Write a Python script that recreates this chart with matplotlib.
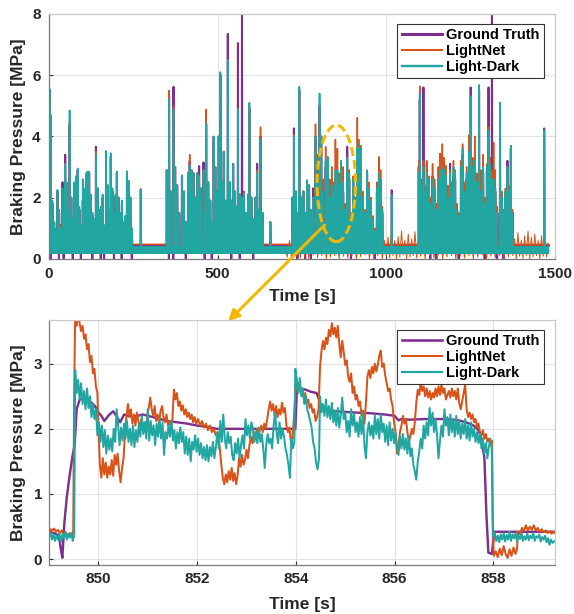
import numpy as np
import matplotlib
matplotlib.use("Agg")
import matplotlib.pyplot as plt
from matplotlib.patches import Ellipse, ConnectionPatch

plt.rcParams['font.family'] = ['Liberation Sans', 'DejaVu Sans']
plt.rcParams['font.weight'] = 'bold'

# ---------------- data: top panel (braking events, peaks in MPa) ----------------
evt_t = [2, 5, 10, 16, 21, 25, 30, 35, 40, 44, 48, 53, 57, 61, 66, 71, 75, 80, 85, 90,
         95, 100, 105, 110, 114, 119, 124, 129, 134, 139, 144, 149, 154, 159, 164, 169, 174, 179, 183, 188,
         193, 197, 201, 206, 211, 216, 221, 226, 231, 236, 241, 246, 272,
         349, 356, 361, 369, 374, 380, 386, 394, 400, 406, 412, 417, 422, 428, 434, 440, 445, 451, 458, 462,
         466, 472, 478, 483, 488, 493, 498, 503, 508, 513, 518, 524, 530, 536, 541, 546, 551, 556, 560, 566,
         572, 578, 585, 590, 594, 600, 606, 612, 617, 622, 627, 633, 656,
         722, 726, 732, 737, 742, 748, 754, 760, 765, 771, 777, 783, 790, 796, 802, 807, 813, 820, 826, 832,
         838, 844, 849, 855, 860, 866, 872, 878, 884, 890, 896, 902, 908, 914, 918, 924, 930, 937, 943, 948,
         954, 960, 966, 972, 978, 983, 988, 1016,
         1096, 1099, 1104, 1110, 1115, 1120, 1126, 1131, 1137, 1143, 1149, 1154, 1159, 1163, 1166, 1171, 1176, 1182, 1189, 1194,
         1199, 1204, 1210, 1215, 1221, 1226, 1232, 1238, 1245, 1250, 1256, 1262, 1268, 1275, 1281, 1287, 1292, 1298, 1303, 1308,
         1313, 1318, 1323, 1329, 1337, 1342, 1348, 1353, 1359, 1364, 1369, 1374, 1468]

gt_pk = [5.5, 4.3, 1.8, 1.0, 0.8, 2.2, 1.5, 1.1, 2.5, 1.4, 3.4, 2.4, 1.5, 4.4, 2.0, 1.2, 2.4, 2.6, 2.9, 1.6,
         1.0, 1.9, 2.2, 2.6, 2.8, 2.8, 2.0, 1.4, 1.2, 3.66, 2.3, 1.5, 1.6, 2.0, 1.0, 3.5, 2.4, 1.5, 3.33, 2.2,
         1.4, 2.0, 2.8, 2.0, 1.4, 1.8, 1.1, 1.3, 2.85, 2.5, 2.0, 0.9, 2.27,
         2.9, 5.3, 2.2, 5.62, 3.0, 2.4, 1.5, 2.7, 2.2, 1.2, 2.8, 3.2, 2.9, 2.8, 2.0, 2.8, 3.03, 2.3, 3.15, 1.5,
         4.4, 2.5, 1.9, 1.2, 3.99, 3.0, 2.2, 4.0, 6.0, 2.5, 3.5, 1.9, 7.35, 2.5, 1.9, 3.1, 2.2, 1.7, 7.05, 2.1,
         8.5, 2.1, 1.5, 2.1, 4.9, 2.0, 1.3, 2.0, 3.1, 1.6, 4.0, 1.5, 1.2,
         2.0, 4.26, 2.2, 1.5, 5.5, 2.0, 2.2, 1.5, 2.5, 2.4, 1.6, 2.3, 4.0, 2.4, 5.0, 4.0, 2.2, 3.0, 3.2, 2.0,
         2.5, 2.0, 2.45, 2.6, 2.2, 2.6, 2.2, 1.5, 3.66, 2.6, 1.2, 2.5, 1.8, 3.4, 3.6, 3.2, 2.0, 1.4, 2.8, 2.3,
         1.8, 1.2, 0.9, 2.2, 2.8, 2.6, 1.5, 2.24,
         3.0, 5.2, 2.5, 5.6, 2.2, 3.12, 2.5, 1.8, 2.7, 2.2, 1.6, 2.5, 2.9, 2.8, 3.0, 2.9, 2.6, 2.0, 3.1, 2.2,
         2.7, 2.6, 1.6, 1.3, 3.0, 3.4, 2.2, 2.6, 3.4, 5.6, 3.0, 3.0, 2.5, 5.5, 2.2, 2.8, 1.8, 2.9, 5.6, 3.1,
         8.5, 2.6, 2.2, 1.5, 5.0, 2.0, 1.4, 2.1, 3.2, 2.2, 3.6, 1.5, 4.26]

ln_pk = [5.3, 4.0, 1.8, 1.0, 0.8, 2.1, 1.4, 1.1, 2.3, 1.4, 3.1, 2.4, 1.5, 4.5, 1.9, 1.2, 2.3, 2.6, 2.9, 1.6,
         1.0, 1.5, 2.2, 2.6, 2.8, 2.7, 2.0, 1.4, 1.2, 3.5, 2.2, 1.5, 1.6, 2.0, 1.0, 3.4, 2.3, 1.5, 3.2, 2.2,
         1.4, 2.0, 2.8, 2.0, 1.4, 1.8, 1.1, 1.3, 2.8, 2.5, 2.0, 0.9, 2.2,
         2.8, 5.5, 2.0, 5.0, 2.9, 2.4, 1.5, 2.7, 2.2, 1.2, 2.8, 3.4, 2.9, 2.7, 2.0, 2.8, 2.7, 2.3, 2.9, 1.5,
         4.88, 2.5, 1.9, 1.2, 3.9, 3.0, 2.2, 4.0, 6.0, 2.5, 3.5, 1.9, 6.5, 2.5, 1.9, 3.0, 2.2, 1.7, 4.9, 2.1,
         2.0, 2.2, 1.5, 2.1, 5.0, 2.0, 1.3, 2.0, 2.9, 1.6, 4.3, 1.5, 1.1,
         2.0, 4.05, 2.2, 1.5, 5.6, 2.0, 2.2, 1.5, 2.4, 2.4, 1.6, 2.0, 4.4, 3.4, 5.0, 3.8, 2.6, 3.66, 3.0, 2.6,
         3.0, 2.5, 3.9, 3.6, 2.8, 3.2, 3.0, 1.8, 3.3, 2.9, 1.5, 2.7, 2.0, 4.61, 3.9, 3.7, 2.2, 1.6, 2.9, 2.5,
         2.0, 1.4, 1.0, 2.5, 3.33, 2.9, 1.7, 2.0,
         3.2, 5.64, 2.6, 3.2, 2.4, 3.2, 2.7, 2.0, 3.1, 2.6, 1.8, 3.0, 3.44, 3.4, 3.75, 3.3, 3.05, 2.4, 2.9, 2.5,
         3.2, 2.9, 1.8, 1.5, 3.2, 3.75, 2.5, 3.0, 4.04, 5.3, 3.3, 4.0, 2.8, 5.6, 2.9, 3.4, 2.0, 3.1, 4.3, 3.3,
         2.9, 3.8, 2.9, 1.7, 5.1, 2.2, 1.6, 2.3, 3.0, 2.4, 3.7, 1.6, 4.2]

ld_pk = [5.55, 4.7, 1.9, 1.2, 0.9, 2.25, 1.6, 1.0, 2.3, 1.5, 3.1, 2.5, 1.6, 4.85, 2.0, 1.3, 2.5, 2.7, 2.95, 1.7,
         1.1, 2.6, 2.3, 2.8, 2.85, 2.85, 2.1, 1.5, 1.3, 3.4, 2.3, 1.6, 1.7, 2.1, 1.1, 3.52, 2.4, 1.6, 3.45, 2.3,
         1.5, 2.1, 2.85, 2.0, 1.5, 1.9, 1.2, 1.4, 2.85, 2.55, 2.0, 1.0, 2.25,
         2.9, 5.2, 2.2, 4.9, 3.0, 2.4, 1.5, 2.73, 2.2, 1.2, 2.8, 3.05, 2.9, 2.8, 2.0, 2.8, 2.7, 2.3, 2.9, 1.5,
         4.4, 2.5, 1.9, 1.2, 3.99, 3.0, 2.2, 4.0, 6.1, 2.5, 3.5, 1.9, 6.49, 2.5, 1.9, 3.1, 2.2, 1.7, 4.9, 2.1,
         2.0, 2.1, 1.5, 2.1, 5.1, 2.0, 1.3, 2.0, 2.8, 1.6, 3.9, 1.5, 1.2,
         2.0, 4.0, 2.2, 1.5, 5.62, 2.0, 2.2, 1.5, 2.57, 2.4, 1.6, 2.0, 4.0, 2.5, 5.4, 4.0, 2.2, 3.2, 3.33, 2.0,
         2.4, 2.2, 2.9, 2.9, 2.4, 3.2, 2.5, 1.6, 3.3, 2.8, 1.3, 2.6, 1.9, 3.6, 3.75, 3.6, 2.0, 1.5, 2.87, 2.3,
         1.9, 1.3, 0.9, 2.3, 2.8, 2.6, 1.6, 2.1,
         2.8, 5.4, 2.4, 3.0, 2.2, 2.8, 2.6, 1.8, 2.6, 2.3, 1.6, 2.6, 2.9, 2.8, 3.0, 2.9, 2.7, 2.0, 2.8, 2.3,
         3.0, 2.8, 1.6, 1.4, 3.0, 3.6, 2.2, 2.8, 3.5, 5.32, 3.0, 3.2, 2.5, 5.68, 2.2, 3.0, 1.8, 3.0, 4.2, 3.1,
         2.6, 2.6, 2.3, 1.5, 5.1, 2.0, 1.5, 2.2, 3.0, 2.2, 3.68, 1.5, 4.2]

# events where the measured pressure briefly drops to zero before braking
gt_dip_t = [5, 30, 44, 71, 95, 129, 154, 164, 193, 216, 246, 356, 369, 406, 462, 483,
            541, 566, 606, 737, 760, 777, 896, 966, 1131, 1149, 1215, 1292, 1329, 1348]

# idle / resting pressure levels (MPa)
gt_idle, gt_dip = 0.42, 0.0
ln_idle = 0.47
ld_idle = 0.27
record_end = 1482

# LightNet idle chatter in the second half of the drive
ln_noise_t = [700, 706, 713, 719, 726, 732, 738, 745, 751, 758,
              764, 770, 777, 783, 790, 796, 802, 809, 815, 822,
              828, 834, 841, 847, 854, 860, 866, 873, 879, 886,
              892, 898, 905, 911, 918, 924, 930, 937, 943, 950,
              956, 962, 969, 975, 982, 988, 994, 1000, 1005, 1010,
              1015, 1020, 1025, 1030, 1035, 1040, 1045, 1050, 1055, 1060,
              1065, 1070, 1075, 1080, 1085, 1090, 1095, 1102, 1108, 1115,
              1121, 1128, 1134, 1141, 1147, 1154, 1160, 1167, 1173, 1180,
              1186, 1193, 1199, 1206, 1212, 1219, 1225, 1232, 1238, 1245,
              1251, 1258, 1264, 1271, 1277, 1284, 1290, 1297, 1303, 1310,
              1316, 1323, 1329, 1336, 1342, 1349, 1355, 1362, 1368, 1375,
              1380, 1385, 1390, 1395, 1400, 1405, 1410, 1415, 1420, 1425,
              1430, 1435, 1440, 1445, 1450, 1455, 1460, 1465, 1470, 1475,
              1480]
ln_noise_v = [0.45, 0.05, 0.6, 0.0, 0.5, 0.1, 0.7, 0.02, 0.55, 0.08,
              0.65, 0.0, 0.5, 0.12, 0.75, 0.03, 0.6, 0.1, 0.8, 0.0,
              0.55, 0.05, 0.7, 0.1, 0.6, 0.0, 0.85, 0.08, 0.5, 0.02,
              0.65, 0.1, 0.7, 0.0, 0.55, 0.06, 0.8, 0.12, 0.6, 0.0,
              0.7, 0.05, 0.5, 0.1, 0.75, 0.0, 0.6, 0.08, 0.7, 0.02,
              0.85, 0.1, 0.6, 0.0, 0.72, 0.05, 0.9, 0.12, 0.6, 0.0,
              0.8, 0.06, 0.65, 0.1, 0.88, 0.02, 0.6, 0.08, 0.75, 0.0,
              0.6, 0.1, 0.8, 0.02, 0.55, 0.12, 0.7, 0.0, 0.65, 0.06,
              0.8, 0.1, 0.6, 0.0, 0.75, 0.08, 0.55, 0.02, 0.85, 0.1,
              0.6, 0.0, 0.7, 0.05, 0.65, 0.12, 0.8, 0.0, 0.6, 0.08,
              0.7, 0.02, 0.55, 0.1, 0.75, 0.0, 0.6, 0.06, 0.8, 0.1,
              0.65, 0.0, 0.85, 0.08, 0.6, 0.02, 0.75, 0.1, 0.9, 0.0,
              0.7, 0.06, 0.8, 0.1, 0.6, 0.0, 0.75, 0.08, 0.55, 0.05,
              0.5]

# ---------------- data: bottom panel (zoom 849 s - 859.2 s) ----------------
gt_t = [849.0, 849.1, 849.2, 849.24, 849.27, 849.31, 849.36, 849.42, 849.48, 849.52,
        849.56, 849.62, 849.7, 849.78, 849.86, 849.93, 850.0, 850.06, 850.12, 850.2,
        850.3, 850.38, 850.44, 850.52, 850.6, 850.7, 850.8, 850.9, 851.0, 851.2,
        851.4, 851.6, 851.8, 852.0, 852.2, 852.4, 852.8, 853.2, 853.6, 853.99,
        854.02, 854.1, 854.2, 854.3, 854.42, 854.47, 854.52, 854.6, 854.8, 855.0,
        855.2, 855.5, 855.8, 856.0, 856.08, 856.14, 856.3, 856.6, 857.0, 857.3,
        857.45, 857.6, 857.7, 857.76, 857.82, 857.86, 857.9, 857.97, 858.02, 858.1,
        858.5, 859.0, 859.25]
gt_v = [0.42, 0.4, 0.36, 0.15, 0.02, 0.55, 0.95, 1.3, 1.6, 1.75,
        2.3, 2.45, 2.47, 2.45, 2.4, 2.35, 2.25, 2.2, 2.12, 2.2,
        2.27, 2.18, 2.1, 2.22, 2.2, 2.18, 2.2, 2.22, 2.2, 2.16,
        2.12, 2.1, 2.08, 2.05, 2.03, 2.0, 2.0, 2.0, 2.0, 2.0,
        2.6, 2.62, 2.6, 2.57, 2.55, 2.45, 2.32, 2.3, 2.27, 2.26,
        2.25, 2.24, 2.22, 2.2, 2.13, 2.15, 2.14, 2.15, 2.15, 2.13,
        2.1, 2.05, 1.98, 1.85, 1.55, 0.7, 0.1, 0.08, 0.42, 0.42,
        0.42, 0.42, 0.42]

ln_t = [849.00, 849.03, 849.07, 849.10, 849.14, 849.18, 849.22, 849.26, 849.30, 849.34,
        849.38, 849.42, 849.46, 849.49, 849.51, 849.53, 849.56, 849.59, 849.62, 849.65,
        849.68, 849.71, 849.74, 849.77, 849.80, 849.83, 849.86, 849.89, 849.92, 849.95,
        849.98, 850.00, 850.03, 850.06, 850.09, 850.12, 850.15, 850.18, 850.21, 850.24,
        850.27, 850.30, 850.33, 850.36, 850.39, 850.42, 850.45, 850.48, 850.51, 850.54,
        850.57, 850.60, 850.63, 850.66, 850.69, 850.72, 850.75, 850.78, 850.81, 850.84,
        850.87, 850.90, 850.93, 850.96, 850.99, 851.02, 851.05, 851.08, 851.11, 851.14,
        851.17, 851.20, 851.23, 851.26, 851.29, 851.32, 851.35, 851.38, 851.41, 851.44,
        851.47, 851.50, 851.53, 851.56, 851.59, 851.62, 851.65, 851.68, 851.71, 851.74,
        851.77, 851.80, 851.83, 851.86, 851.89, 851.92, 851.95, 851.98, 852.02, 852.06,
        852.10, 852.14, 852.18, 852.22, 852.26, 852.30, 852.34, 852.38, 852.42, 852.46,
        852.49, 852.52, 852.55, 852.58, 852.61, 852.64, 852.67, 852.70, 852.73, 852.76,
        852.79, 852.82, 852.85, 852.88, 852.91, 852.94, 852.97, 853.00, 853.03, 853.06,
        853.09, 853.12, 853.15, 853.18, 853.21, 853.24, 853.27, 853.30, 853.33, 853.36,
        853.39, 853.42, 853.45, 853.48, 853.51, 853.54, 853.57, 853.60, 853.63, 853.66,
        853.69, 853.72, 853.75, 853.78, 853.81, 853.84, 853.87, 853.90, 853.93, 853.96,
        853.99, 854.01, 854.04, 854.07, 854.10, 854.13, 854.16, 854.19, 854.22, 854.25,
        854.28, 854.31, 854.34, 854.37, 854.40, 854.43, 854.46, 854.49, 854.52, 854.55,
        854.58, 854.61, 854.64, 854.67, 854.70, 854.73, 854.76, 854.79, 854.82, 854.85,
        854.88, 854.91, 854.94, 854.97, 855.00, 855.03, 855.06, 855.09, 855.12, 855.15,
        855.18, 855.21, 855.24, 855.27, 855.30, 855.33, 855.36, 855.39, 855.42, 855.45,
        855.48, 855.51, 855.54, 855.57, 855.60, 855.63, 855.66, 855.69, 855.72, 855.75,
        855.78, 855.81, 855.84, 855.87, 855.90, 855.93, 855.96, 855.99, 856.02, 856.05,
        856.08, 856.11, 856.14, 856.17, 856.20, 856.23, 856.26, 856.29, 856.32, 856.35,
        856.38, 856.41, 856.44, 856.47, 856.50, 856.53, 856.56, 856.59, 856.62, 856.65,
        856.68, 856.71, 856.74, 856.77, 856.80, 856.83, 856.86, 856.89, 856.92, 856.95,
        856.98, 857.01, 857.04, 857.07, 857.10, 857.13, 857.16, 857.19, 857.22, 857.25,
        857.28, 857.31, 857.34, 857.37, 857.40, 857.43, 857.46, 857.49, 857.52, 857.55,
        857.58, 857.61, 857.64, 857.67, 857.70, 857.73, 857.76, 857.79, 857.82, 857.85,
        857.88, 857.91, 857.94, 857.97, 857.99, 858.01, 858.05, 858.09, 858.13, 858.17,
        858.21, 858.25, 858.29, 858.33, 858.37, 858.41, 858.45, 858.48, 858.50, 858.54,
        858.58, 858.62, 858.66, 858.70, 858.74, 858.78, 858.82, 858.86, 858.90, 858.94,
        858.98, 859.02, 859.06, 859.10, 859.14, 859.18, 859.22, 859.25]
ln_v = [0.38, 0.46, 0.44, 0.47, 0.42, 0.45, 0.40, 0.44, 0.37, 0.41,
        0.36, 0.40, 0.35, 0.42, 2.60, 3.75, 3.58, 3.80, 3.62, 3.50,
        3.58, 3.38, 3.45, 3.22, 3.30, 3.02, 3.12, 2.85, 2.92, 2.65,
        2.55, 2.05, 1.45, 1.25, 1.55, 1.30, 1.48, 1.25, 1.42, 1.30,
        1.52, 1.28, 1.60, 1.45, 1.62, 1.35, 1.18, 1.40, 1.55, 1.95,
        2.20, 2.38, 2.18, 2.30, 2.08, 2.22, 2.05, 2.25, 2.12, 2.00,
        2.15, 1.98, 2.10, 2.02, 2.20, 2.32, 2.48, 2.30, 2.20, 2.35,
        2.12, 2.22, 2.08, 2.28, 2.35, 2.18, 2.10, 2.22, 2.05, 2.12,
        2.02, 2.15, 2.60, 2.45, 2.55, 2.35, 2.42, 2.28, 2.36, 2.22,
        2.30, 2.18, 2.25, 2.15, 2.22, 2.10, 2.18, 2.08, 2.15, 2.05,
        2.12, 2.02, 2.08, 1.98, 2.05, 1.95, 2.00, 1.90, 1.95, 1.70,
        1.45, 1.25, 1.15, 1.30, 1.18, 1.35, 1.22, 1.40, 1.20, 1.32,
        1.15, 1.28, 1.55, 1.42, 1.60, 1.45, 1.52, 1.68, 1.55, 1.75,
        1.88, 1.78, 1.95, 1.85, 2.00, 1.88, 1.98, 2.05, 1.95, 2.08,
        2.00, 2.15, 2.30, 2.42, 2.28, 2.38, 2.20, 2.35, 2.18, 2.30,
        2.22, 2.40, 2.25, 2.32, 2.05, 1.95, 2.02, 1.80, 1.85, 2.15,
        2.55, 2.80, 2.62, 2.70, 2.55, 2.62, 2.48, 2.55, 2.40, 2.45,
        2.32, 2.38, 2.25, 2.30, 2.12, 2.18, 2.30, 2.95, 3.20, 3.35,
        3.22, 3.40, 3.30, 3.52, 3.42, 3.62, 3.45, 3.55, 3.40, 3.58,
        3.30, 3.10, 3.35, 3.18, 2.98, 3.05, 2.80, 2.72, 2.85, 2.55,
        2.65, 2.45, 2.52, 2.35, 2.42, 2.20, 2.28, 2.08, 2.40, 2.80,
        2.90, 2.78, 2.95, 2.85, 3.00, 2.88, 2.98, 3.12, 3.20, 2.95,
        3.00, 2.82, 2.70, 2.58, 2.62, 2.45, 2.35, 2.10, 1.95, 1.62,
        1.75, 1.95, 2.05, 2.20, 2.08, 2.15, 1.95, 1.80, 1.88, 2.00,
        1.92, 2.10, 2.40, 2.60, 2.52, 2.72, 2.58, 2.65, 2.50, 2.62,
        2.48, 2.58, 2.45, 2.55, 2.48, 2.62, 2.50, 2.65, 2.52, 2.68,
        2.55, 2.62, 2.45, 2.52, 2.58, 2.48, 2.62, 2.50, 2.58, 2.45,
        2.62, 2.40, 2.30, 2.42, 2.55, 2.68, 2.30, 2.18, 2.25, 2.15,
        2.22, 2.10, 2.15, 2.02, 2.08, 1.95, 1.90, 1.98, 1.85, 1.92,
        1.80, 1.85, 1.75, 1.82, 0.60, 0.05, 0.12, 0.03, 0.16, 0.06,
        0.20, 0.08, 0.02, 0.15, 0.05, 0.18, 0.08, 0.15, 0.42, 0.38,
        0.48, 0.43, 0.52, 0.44, 0.50, 0.45, 0.52, 0.44, 0.48, 0.42,
        0.46, 0.41, 0.44, 0.40, 0.43, 0.39, 0.42, 0.40]

ld_t = [849.00, 849.03, 849.06, 849.09, 849.12, 849.15, 849.18, 849.21, 849.24, 849.27,
        849.30, 849.33, 849.36, 849.39, 849.42, 849.45, 849.48, 849.51, 849.53, 849.56,
        849.59, 849.62, 849.65, 849.68, 849.71, 849.74, 849.77, 849.80, 849.83, 849.86,
        849.89, 849.92, 849.95, 849.98, 850.01, 850.04, 850.07, 850.10, 850.13, 850.16,
        850.19, 850.22, 850.25, 850.28, 850.31, 850.34, 850.37, 850.40, 850.43, 850.46,
        850.49, 850.52, 850.55, 850.58, 850.61, 850.64, 850.67, 850.70, 850.73, 850.76,
        850.79, 850.82, 850.85, 850.88, 850.91, 850.94, 850.97, 851.00, 851.03, 851.06,
        851.09, 851.12, 851.15, 851.18, 851.21, 851.24, 851.27, 851.30, 851.33, 851.36,
        851.39, 851.42, 851.45, 851.48, 851.51, 851.54, 851.57, 851.60, 851.63, 851.66,
        851.69, 851.72, 851.75, 851.78, 851.81, 851.84, 851.87, 851.90, 851.93, 851.96,
        851.99, 852.02, 852.05, 852.08, 852.11, 852.14, 852.17, 852.20, 852.23, 852.26,
        852.29, 852.32, 852.35, 852.38, 852.41, 852.44, 852.47, 852.50, 852.53, 852.56,
        852.59, 852.62, 852.65, 852.68, 852.71, 852.74, 852.77, 852.80, 852.83, 852.86,
        852.89, 852.92, 852.95, 852.98, 853.01, 853.04, 853.07, 853.10, 853.13, 853.16,
        853.19, 853.22, 853.25, 853.28, 853.31, 853.34, 853.37, 853.40, 853.43, 853.46,
        853.49, 853.52, 853.55, 853.58, 853.61, 853.64, 853.67, 853.70, 853.73, 853.76,
        853.79, 853.82, 853.85, 853.88, 853.91, 853.94, 853.97, 853.99, 854.02, 854.05,
        854.08, 854.11, 854.14, 854.17, 854.20, 854.23, 854.26, 854.29, 854.32, 854.35,
        854.38, 854.41, 854.44, 854.47, 854.49, 854.52, 854.55, 854.58, 854.61, 854.64,
        854.67, 854.70, 854.73, 854.76, 854.79, 854.82, 854.85, 854.88, 854.91, 854.94,
        854.97, 855.00, 855.03, 855.06, 855.09, 855.12, 855.15, 855.18, 855.21, 855.24,
        855.27, 855.30, 855.33, 855.36, 855.39, 855.42, 855.45, 855.48, 855.51, 855.54,
        855.57, 855.60, 855.63, 855.66, 855.69, 855.72, 855.75, 855.78, 855.81, 855.84,
        855.87, 855.90, 855.93, 855.96, 855.99, 856.02, 856.05, 856.08, 856.11, 856.14,
        856.17, 856.20, 856.23, 856.26, 856.29, 856.32, 856.35, 856.38, 856.41, 856.44,
        856.47, 856.50, 856.53, 856.56, 856.59, 856.62, 856.65, 856.68, 856.71, 856.74,
        856.77, 856.80, 856.83, 856.86, 856.89, 856.92, 856.95, 856.98, 857.01, 857.04,
        857.07, 857.10, 857.13, 857.16, 857.19, 857.22, 857.25, 857.28, 857.31, 857.34,
        857.37, 857.40, 857.43, 857.46, 857.49, 857.52, 857.55, 857.58, 857.61, 857.64,
        857.67, 857.70, 857.73, 857.76, 857.79, 857.82, 857.85, 857.88, 857.91, 857.94,
        857.97, 857.99, 858.03, 858.06, 858.09, 858.12, 858.15, 858.18, 858.21, 858.24,
        858.27, 858.30, 858.33, 858.36, 858.39, 858.42, 858.45, 858.48, 858.51, 858.54,
        858.57, 858.60, 858.63, 858.66, 858.69, 858.72, 858.75, 858.78, 858.81, 858.84,
        858.87, 858.90, 858.93, 858.96, 858.99, 859.02, 859.05, 859.08, 859.11, 859.14,
        859.17, 859.20, 859.25]
ld_v = [0.35, 0.40, 0.30, 0.38, 0.28, 0.36, 0.30, 0.40, 0.26, 0.38,
        0.32, 0.42, 0.30, 0.38, 0.33, 0.40, 0.28, 0.36, 2.90, 2.55,
        2.75, 2.45, 2.70, 2.38, 2.58, 2.30, 2.62, 2.32, 2.50, 2.18,
        2.38, 2.15, 2.30, 1.90, 2.10, 1.80, 2.05, 1.72, 1.98, 1.62,
        1.90, 1.68, 1.85, 1.65, 2.00, 1.80, 2.30, 2.05, 1.75, 2.02,
        1.82, 2.08, 1.85, 2.12, 1.80, 2.00, 1.75, 2.05, 1.72, 1.98,
        1.80, 2.08, 1.88, 2.20, 1.92, 2.10, 1.85, 2.30, 1.82, 2.12,
        1.90, 2.05, 1.75, 2.08, 1.88, 2.15, 1.85, 2.10, 1.60, 1.95,
        1.85, 2.05, 1.88, 2.12, 1.82, 1.98, 1.70, 1.95, 1.78, 2.02,
        1.80, 1.95, 1.62, 1.88, 1.60, 1.85, 1.50, 1.80, 1.68, 1.90,
        1.65, 1.85, 1.60, 1.78, 1.55, 1.72, 1.52, 1.75, 1.50, 1.72,
        1.58, 1.80, 1.55, 1.72, 1.95, 1.70, 2.12, 1.80, 2.22, 1.85,
        1.70, 1.95, 1.78, 1.88, 1.60, 1.52, 1.78, 1.62, 1.85, 1.55,
        1.75, 1.90, 1.70, 2.15, 1.90, 2.05, 1.85, 2.10, 2.00, 1.80,
        1.95, 1.78, 2.02, 1.80, 1.92, 1.70, 1.40, 1.75, 1.92, 1.78,
        1.85, 1.70, 2.05, 2.25, 1.95, 1.78, 2.10, 1.85, 2.00, 1.88,
        1.70, 1.60, 1.45, 1.25, 1.85, 1.70, 1.80, 2.92, 2.70, 2.55,
        2.78, 2.50, 2.62, 2.38, 2.50, 2.30, 2.22, 2.12, 2.02, 1.80,
        1.70, 1.48, 1.38, 1.55, 2.50, 2.25, 2.38, 2.20, 2.45, 2.18,
        2.35, 2.15, 2.40, 2.10, 2.28, 2.05, 2.32, 2.02, 2.20, 2.48,
        2.15, 2.25, 1.95, 2.12, 1.88, 2.30, 2.05, 2.22, 1.95, 2.10,
        1.88, 2.18, 1.92, 2.25, 1.75, 1.55, 1.95, 2.10, 1.90, 2.05,
        1.85, 2.20, 1.92, 2.15, 1.85, 2.22, 1.95, 2.08, 1.80, 2.05,
        1.75, 2.10, 1.82, 2.00, 1.78, 1.95, 1.72, 1.60, 1.88, 1.70,
        1.92, 1.68, 1.85, 1.62, 1.90, 1.58, 1.70, 1.45, 1.35, 1.22,
        1.50, 1.65, 1.85, 1.70, 2.05, 1.85, 2.10, 1.90, 2.32, 2.05,
        2.25, 1.95, 2.15, 1.90, 1.55, 1.82, 2.05, 1.88, 2.30, 2.05,
        2.18, 1.90, 2.22, 1.95, 2.15, 1.88, 2.20, 1.92, 2.12, 1.85,
        2.08, 1.92, 2.15, 1.85, 2.05, 1.82, 2.10, 1.88, 2.00, 1.80,
        1.95, 1.78, 1.92, 1.70, 1.85, 1.62, 1.78, 1.55, 1.72, 1.85,
        1.70, 0.35, 0.40, 0.28, 0.36, 0.26, 0.38, 0.30, 0.40, 0.27,
        0.37, 0.30, 0.42, 0.28, 0.38, 0.32, 0.40, 0.27, 0.36, 0.31,
        0.40, 0.28, 0.35, 0.30, 0.39, 0.29, 0.36, 0.32, 0.40, 0.28,
        0.35, 0.33, 0.38, 0.27, 0.34, 0.30, 0.36, 0.26, 0.32, 0.22,
        0.30, 0.25, 0.28]

series_names = ['Ground Truth', 'LightNet', 'Light-Dark']
top_xticks = [0, 500, 1000, 1500]
top_yticks = [0, 2, 4, 6, 8]
bot_xticks = [850, 852, 854, 856, 858]
bot_yticks = [0, 1, 2, 3]

# ---------------- styling ----------------
C_GT = '#7E2F8E'
C_LN = '#D95319'
C_LD = '#22A6A1'
C_ANN = '#F5B800'
DPI = 100
px = 72.0 / DPI  # points per pixel


def event_trace(times, peaks, idle, dip, t_end, dip_times=None):
    xs, ys = [0.0], [idle]
    for t, p in zip(times, peaks):
        d = dip if (dip_times is None or t in dip_times) else idle
        xs += [t - 1.2, t - 0.6, t, t + 1.0]
        ys += [idle, d, p, idle]
    xs.append(t_end)
    ys.append(idle)
    return np.array(xs), np.array(ys)


def style_axes(ax):
    ax.grid(True, color='#E3E3E3', linewidth=0.8)
    ax.set_axisbelow(True)
    for s in ['left', 'bottom']:
        ax.spines[s].set_color('#7A7A7A')
        ax.spines[s].set_linewidth(0.9)
    for s in ['top', 'right']:
        ax.spines[s].set_color('#C9C9C9')
        ax.spines[s].set_linewidth(0.9)
    ax.tick_params(direction='in', length=4 * px, width=0.8, color='#333333',
                   labelsize=11, labelcolor='#262626', pad=6)
    for lab in ax.get_xticklabels() + ax.get_yticklabels():
        lab.set_fontweight('bold')


fig = plt.figure(figsize=(5.74, 6.14), dpi=DPI)
ax1 = fig.add_axes([0.0854, 0.5787, 0.8815, 0.3985])
ax2 = fig.add_axes([0.0854, 0.0798, 0.8815, 0.3990])

# ---- top panel ----
gx, gy = event_trace(evt_t, gt_pk, gt_idle, gt_dip, record_end, set(gt_dip_t))
lx, ly = event_trace(evt_t, ln_pk, ln_idle, ln_idle, record_end)
dx, dy = event_trace(evt_t, ld_pk, ld_idle, ld_idle, record_end)

h1, = ax1.plot(gx, gy, color=C_GT, lw=2.0 * px, solid_joinstyle='round', label=series_names[0])
h2, = ax1.plot(lx, ly, color=C_LN, lw=1.5 * px, solid_joinstyle='round', label=series_names[1])
ax1.plot(ln_noise_t, ln_noise_v, color=C_LN, lw=1.0 * px)
ax1.plot([0, record_end], [ld_idle, ld_idle], color=C_LD, lw=8 * px, solid_capstyle='butt')
h3, = ax1.plot(dx, dy, color=C_LD, lw=1.7 * px, solid_joinstyle='round', label=series_names[2])

ax1.set_xlim(0, 1500)
ax1.set_ylim(0, 8)
ax1.set_xticks(top_xticks)
ax1.set_yticks(top_yticks)
style_axes(ax1)
ax1.set_xlabel('Time [s]', fontsize=12.5, fontweight='bold', color='#262626')
ax1.set_ylabel('Braking Pressure [MPa]', fontsize=12.5, fontweight='bold', color='#262626')
ax1.xaxis.set_label_coords(0.5, -0.125)
ax1.yaxis.set_label_coords(-0.045, 0.5)

leg_kw = dict(loc='upper right', bbox_to_anchor=(0.978, 0.959), borderaxespad=0,
              fancybox=False, framealpha=1, edgecolor='#333333', handlelength=2.8,
              handletextpad=0.25, borderpad=0.3, labelspacing=0.12,
              prop={'weight': 'bold', 'size': 10.5})
lg1 = ax1.legend(handles=[h1, h2, h3], **leg_kw)
lg1.get_frame().set_linewidth(0.8)
for line, w in zip(lg1.get_lines(), [3.0, 2.0, 2.4]):
    line.set_linewidth(w * px)

ell = Ellipse((851.8, 2.46), 114, 3.81, fill=False, edgecolor=C_ANN,
              lw=3.0 * px, linestyle=(0, (3.0, 1.4)), zorder=6)
ax1.add_patch(ell)

# ---- bottom panel ----
b1, = ax2.plot(gt_t, gt_v, color=C_GT, lw=2.4 * px, solid_joinstyle='round', label=series_names[0])
b2, = ax2.plot(ln_t, ln_v, color=C_LN, lw=2.0 * px, solid_joinstyle='round', label=series_names[1])
b3, = ax2.plot(ld_t, ld_v, color=C_LD, lw=2.0 * px, solid_joinstyle='round', label=series_names[2])

ax2.set_xlim(849.0, 859.25)
ax2.set_ylim(-0.09, 3.67)
ax2.set_xticks(bot_xticks)
ax2.set_yticks(bot_yticks)
style_axes(ax2)
ax2.tick_params(pad=5)
ax2.set_xlabel('Time [s]', fontsize=12.5, fontweight='bold', color='#262626')
ax2.set_ylabel('Braking Pressure [MPa]', fontsize=12.5, fontweight='bold', color='#262626')
ax2.xaxis.set_label_coords(0.5, -0.13)
ax2.yaxis.set_label_coords(-0.045, 0.5)
lg2 = ax2.legend(handles=[b1, b2, b3], **leg_kw)
lg2.get_frame().set_linewidth(0.8)
for line, w in zip(lg2.get_lines(), [2.6, 2.0, 2.2]):
    line.set_linewidth(w * px)

# ---- zoom arrow ----
con = ConnectionPatch(xyA=(817, 1.1), coordsA=ax1.transData,
                      xyB=(0.354, 0.995), coordsB=ax2.transAxes,
                      arrowstyle='-|>', mutation_scale=16, lw=3.0 * px,
                      color=C_ANN, zorder=10)
fig.add_artist(con)

fig.savefig('out.png', dpi=DPI)
